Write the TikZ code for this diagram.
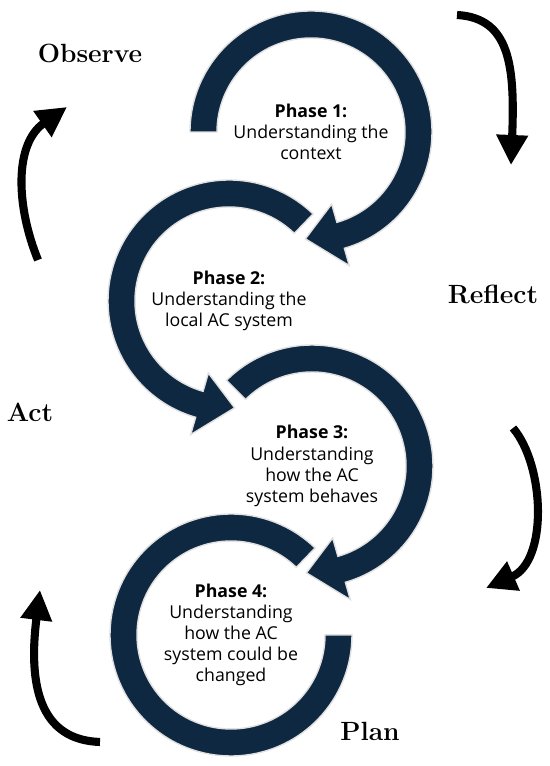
\documentclass[tikz,border=0pt]{standalone}
\usepackage{fontspec}
\setsansfont{Open Sans}
\usetikzlibrary{arrows.meta}
\definecolor{ringblue}{HTML}{0E2841}

\begin{document}
\begin{tikzpicture}[
    x=0.02cm, y=0.02cm,
    phase/.style     = {align=center, inner sep=0pt,
                        font=\sffamily\fontsize{10.1}{12}\selectfont},
    ring/.style      = {fill=ringblue, draw=black!12, line width=0.8pt},
    stagelbl/.style  = {inner sep=0pt, font=\fontsize{15}{17}\selectfont\bfseries},
    bentarrow/.style = {line width=4.6pt, -{Triangle[length=0.6cm, width=0.6cm]}}
]
\useasboundingbox (0,0) rectangle (550,766);

%% ── Textos de las fases ─────────────────────────────────────────────────────
\node[phase] (ph1) at (311,634) {\textbf{Phase 1:}\\Understanding the\\context};
\node[phase] (ph2) at (229,465) {\textbf{Phase 2:}\\Understanding the\\local AC system};
\node[phase] (ph3) at (312,300) {\textbf{Phase 3:}\\Understanding\\how the AC\\system behaves};
\node[phase] (ph4) at (231,131) {\textbf{Phase 4:}\\Understanding\\how the AC\\system could be\\changed};

%% ── Flechas circulares ──────────────────────────────────────────────────────
\begin{scope}[shift={(ph1)}]
  \filldraw[ring] (180:121) arc[start angle=180, end angle=-74, radius=121]
     -- (-74:139) -- (-93:107) -- (-74:75) -- (-74:94)
     arc[start angle=-74, end angle=180, radius=94] -- cycle;
\end{scope}
\begin{scope}[shift={(ph2)}]
  \filldraw[ring] (46:121) arc[start angle=46, end angle=254, radius=121]
     -- (254:139) -- (273:107) -- (254:75) -- (254:94)
     arc[start angle=254, end angle=46, radius=94] -- cycle;
\end{scope}
\begin{scope}[shift={(ph3)}]
  \filldraw[ring] (135:121) arc[start angle=135, end angle=-74, radius=121]
     -- (-74:139) -- (-93:107) -- (-74:75) -- (-74:94)
     arc[start angle=-74, end angle=135, radius=94] -- cycle;
\end{scope}
\begin{scope}[shift={(ph4)}]
  \filldraw[ring] (46:121) arc[start angle=46, end angle=360, radius=121]
     -- (0:94) arc[start angle=360, end angle=46, radius=94] -- cycle;
\end{scope}

%% ── Ciclo: observar, reflexionar, planificar, actuar ────────────────────────
\node[stagelbl] (obs)  at (90,713)  {Observe};
\node[stagelbl] (refl) at (493,472) {Reflect};
\node[stagelbl] (act)  at (30,354)  {Act};
\node[stagelbl] (plan) at (370,35)  {Plan};

\coordinate (actTail)  at (38,506);
\coordinate (obsTip)   at (67,659);
\coordinate (obsTail)  at (457,751);
\coordinate (reflTip)  at (511,601);
\coordinate (reflTail) at (513,338);
\coordinate (planTip)  at (486,178);
\coordinate (planTail) at (100,24);
\coordinate (actTip)   at (40,176);

\draw[bentarrow] (actTail)  .. controls (16,560) and (14,622) .. (obsTip);
\draw[bentarrow] (obsTail)  .. controls (510,748) and (515,700) .. (reflTip);
\draw[bentarrow] (reflTail) .. controls (545,300) and (548,205) .. (planTip);
\draw[bentarrow] (planTail) .. controls (40,26) and (28,80) .. (actTip);

\end{tikzpicture}
\end{document}
